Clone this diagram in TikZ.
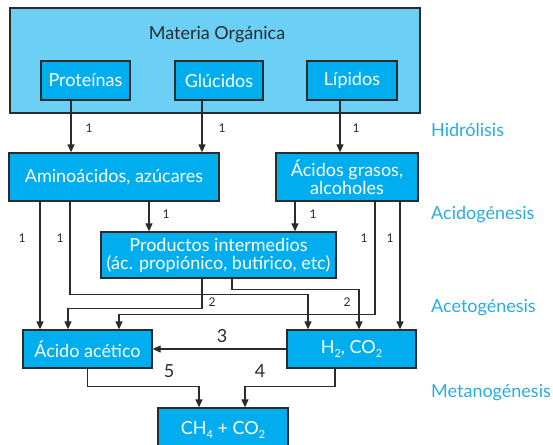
\documentclass[tikz,border=0pt]{standalone}
\usepackage{fontspec}
\setmainfont{Lato}
\usetikzlibrary{arrows.meta}
\definecolor{lightbg}{HTML}{6CCFF6}
\definecolor{cyanbox}{HTML}{00AEEF}
\definecolor{phase}{HTML}{29ABE2}
\definecolor{edge}{HTML}{2B2B2B}
\newcommand{\lowsub}[1]{\raisebox{-4pt}{\fontsize{11}{11}\selectfont #1}}
\tikzset{
  bigbox/.style={draw=edge, line width=1.3pt, fill=lightbg, inner sep=0pt},
  cbox/.style={draw=edge, line width=1.3pt, fill=cyanbox, text=white, inner sep=0pt, align=center, font=\fontsize{18}{18}\selectfont},
  arr/.style={draw=edge, line width=1.2pt, -{Triangle[length=8pt,width=7pt]}},
  num/.style={text=edge, font=\fontsize{12}{12}\selectfont, inner sep=0pt},
  bignum/.style={text=edge, font=\fontsize{18}{18}\selectfont, inner sep=0pt},
  phaselbl/.style={text=phase, font=\fontsize{18}{18}\selectfont, anchor=west, inner sep=0pt}
}
\begin{document}
\begin{tikzpicture}[x=1pt,y=-1pt]
\useasboundingbox (0,0) rectangle (553,444);
\begin{scope}
\clip (0,0) rectangle (553,444);
% boxes
\node[bigbox, minimum width=410, minimum height=105] (mo) at (215,60.5) {};
\node[text=edge, font=\fontsize{18}{18}\selectfont, inner sep=0pt] (title) at (217,35) {Materia Orgánica};
\node[cbox, minimum width=89, minimum height=39] (prot) at (85.5,80.5) {Proteínas};
\node[cbox, minimum width=88, minimum height=39] (gluc) at (219,80.5) {Glúcidos};
\node[cbox, minimum width=90, minimum height=39] (lip) at (352,80.5) {Lípidos};
\node[cbox, minimum width=210, minimum height=48] (amino) at (114,177) {Aminoácidos, azúcares};
\node[cbox, minimum width=142, minimum height=48] (acgr) at (347,177) {Ácidos grasos,\\alcoholes};
\node[cbox, minimum width=235, minimum height=46] (prod) at (218.5,255) {Productos intermedios\\(ác. propiónico, butírico, etc)};
\node[cbox, minimum width=129, minimum height=38] (acet) at (87.5,349) {Ácido acético};
\node[cbox, minimum width=129, minimum height=38] (h2) at (351.5,349) {H\lowsub{2}, CO\lowsub{2}};
\node[cbox, minimum width=130, minimum height=40, text depth=0pt] (ch4) at (223,428) {CH\lowsub{4} + CO\lowsub{2}};
\end{scope}
% hydrolysis arrows
\draw[arr] ([xshift=-14.5]prot.south) -- ([xshift=-43]amino.north);
\draw[arr] ([xshift=-17]gluc.south) -- ([xshift=88]amino.north);
\draw[arr] ([xshift=-12]lip.south) -- ([xshift=-7]acgr.north);
% acidogenesis
\draw[arr] ([xshift=35]amino.south) -- ([xshift=-69.5]prod.north);
\draw[arr] ([xshift=-52]acgr.south) -- ([xshift=76.5]prod.north);
\draw[arr] ([xshift=-74]amino.south) -- ([xshift=-47.5]acet.north);
\draw[arr] ([xshift=-44]amino.south) -- ++(0,93) -| ([xshift=-43.5]h2.north);
\draw[arr] ([xshift=28]acgr.south) -- ++(0,113) -| ([xshift=31.5]acet.north);
\draw[arr] ([xshift=53]acgr.south) -- ([xshift=48.5]h2.north);
% acetogenesis
\draw[arr] ([xshift=-16.5]prod.south) -- ++(0,30) -| ([xshift=-19.5]acet.north);
\draw[arr] ([xshift=13.5]prod.south) -- ++(0,11) -| ([xshift=7.5]h2.north);
\draw[arr] (h2.west) -- (acet.east);
% methanogenesis
\draw[arr] (acet.south) -- ++(0,18) -| ([xshift=-24]ch4.north);
\draw[arr] ([xshift=-16.5]h2.south) -- ++(0,18) -| ([xshift=22]ch4.north);
% labels
\node[num] (l1) at (89,128) {1};
\node[num] (l2) at (222,128) {1};
\node[num] (l3) at (356,128) {1};
\node[num] (l4) at (166,214) {1};
\node[num] (l5) at (313,214) {1};
\node[num] (l6) at (22,238) {1};
\node[num] (l7) at (60,238) {1};
\node[num] (l8) at (364,238) {1};
\node[num] (l9) at (390,238) {1};
\node[num] (l10) at (212,302) {2};
\node[num] (l11) at (347,302) {2};
\node[bignum] (l12) at (222,336) {3};
\node[bignum] (l13) at (260,371) {4};
\node[bignum] (l14) at (169,371) {5};
% phases
\node[phaselbl] (p1) at (431,130) {Hidrólisis};
\node[phaselbl] (p2) at (431,215) {Acidogénesis};
\node[phaselbl] (p3) at (431,308) {Acetogénesis};
\node[phaselbl] (p4) at (431,393) {Metanogénesis};
\end{tikzpicture}
\end{document}
